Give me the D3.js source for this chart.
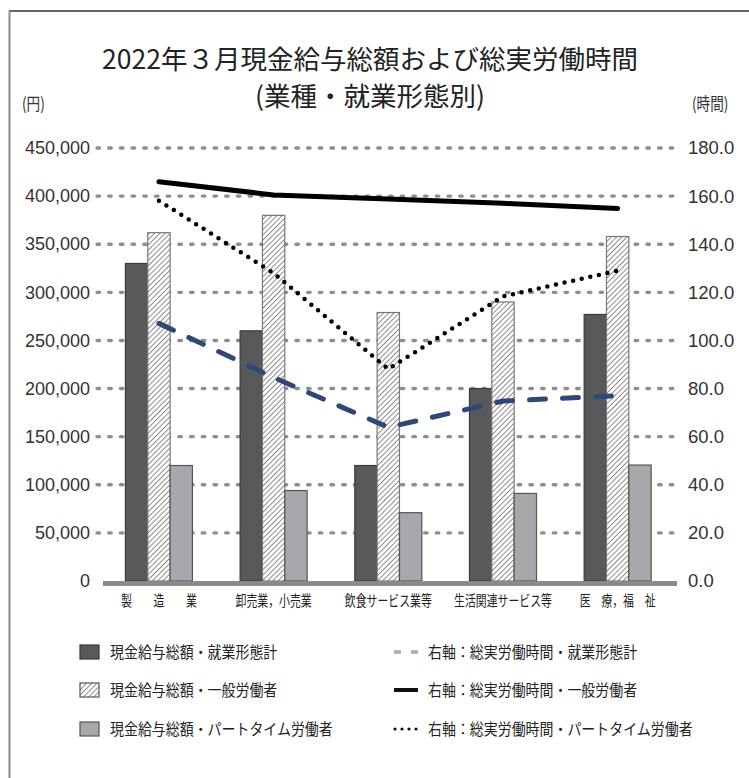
<!DOCTYPE html>
<html><head><meta charset="utf-8">
<script src="https://cdn.jsdelivr.net/npm/d3@7"></script>
<style>
html,body{margin:0;padding:0;background:#fff;}
svg{display:block;font-family:"Noto Sans CJK JP","Noto Sans",sans-serif;}
</style></head>
<body>
<svg id="c" width="749" height="778"></svg>
<script>
const categories = ["製　　造　　業","卸売業，小売業","飲食サービス業等","生活関連サービス等","医　療，福　祉"];
const wageTotal   = [330000, 260000, 120000, 200000, 277000];
const wageGeneral = [362000, 380000, 279000, 290000, 358000];
const wagePart    = [120000,  94000,  71000,  91000, 120500];
const hoursTotal   = [107.1, 84.6, 63.9, 74.8, 77.0];
const hoursGeneral = [166.0, 160.5, 158.8, 157.0, 154.9];
const hoursPart    = [158.1, 128.0, 88.1, 118.3, 129.0];
const leftTicks  = [0,50000,100000,150000,200000,250000,300000,350000,400000,450000];
const rightTicks = [0,20,40,60,80,100,120,140,160,180];
const titleLines = ["2022年３月現金給与総額および総実労働時間","(業種・就業形態別)"];
const barLegend  = ["現金給与総額・就業形態計","現金給与総額・一般労働者","現金給与総額・パートタイム労働者"];
const lineLegend = ["右軸：総実労働時間・就業形態計","右軸：総実労働時間・一般労働者","右軸：総実労働時間・パートタイム労働者"];

const svg = d3.select("#c");
const defs = svg.append("defs");
const pat = defs.append("pattern").attr("id","hatch").attr("patternUnits","userSpaceOnUse")
  .attr("width",3.7).attr("height",3.7).attr("patternTransform","rotate(45)");
pat.append("rect").attr("width",3.7).attr("height",3.7).attr("fill","#fff");
pat.append("line").attr("x1",0).attr("y1",0).attr("x2",0).attr("y2",3.7).attr("stroke","#333").attr("stroke-width",1.1);

// frame
svg.append("line").attr("x1",9).attr("x2",749).attr("y1",11).attr("y2",11).attr("stroke","#333").attr("stroke-width",1.5);
svg.append("line").attr("x1",9.5).attr("x2",9.5).attr("y1",11).attr("y2",778).attr("stroke","#888").attr("stroke-width",2);

// title
svg.append("text").attr("x",370).attr("y",69).attr("text-anchor","middle").attr("font-size",26.5).attr("fill","#222").text(titleLines[0]);
svg.append("text").attr("x",370).attr("y",106).attr("text-anchor","middle").attr("font-size",26.5).attr("fill","#222").text(titleLines[1]);
svg.append("text").attr("transform","translate(22,110) scale(0.8,1)").attr("font-size",17).attr("fill","#333").text("(円)");
svg.append("text").attr("transform","translate(692,110) scale(0.8,1)").attr("font-size",17).attr("fill","#333").text("(時間)");

const x = d3.scaleBand().domain(categories).range([101.6,675]);
const sub = d3.scaleBand().domain([0,1,2]).range([-33.5,33.5]);
const yL = d3.scaleLinear().domain([0,450000]).range([581,148]);
const yR = d3.scaleLinear().domain([0,180]).range([581,148]);
const cx = c => x(c) + x.bandwidth()/2;

// gridlines
svg.append("g").selectAll("line").data(leftTicks.filter(d=>d>0)).join("line")
  .attr("x1",97).attr("x2",673).attr("y1",d=>yL(d)).attr("y2",d=>yL(d))
  .attr("stroke","#8e8e8e").attr("stroke-width",3.4).attr("stroke-linecap","round")
  .attr("stroke-dasharray","2.5,9.2");

// axes labels
const gl = svg.append("g").attr("transform","translate(90,0)")
  .call(d3.axisLeft(yL).tickValues(leftTicks).tickSize(0).tickPadding(0).tickFormat(d3.format(",")));
gl.select(".domain").remove();
gl.selectAll("text").attr("font-family","'Liberation Sans',Arial,sans-serif").attr("font-size",18).attr("fill","#333");
const gr = svg.append("g").attr("transform","translate(688,0)")
  .call(d3.axisRight(yR).tickValues(rightTicks).tickSize(0).tickPadding(0).tickFormat(d3.format(".1f")));
gr.select(".domain").remove();
gr.selectAll("text").attr("font-family","'Liberation Sans',Arial,sans-serif").attr("font-size",18.5).attr("fill","#333");

// bars
const series = [
  {vals:wageTotal, fill:"#58595b", stroke:"#3a3a3a"},
  {vals:wageGeneral, fill:"url(#hatch)", stroke:"#777"},
  {vals:wagePart, fill:"#a6a8ab", stroke:"#555"}
];
series.forEach((s,i)=>{
  svg.append("g").selectAll("rect").data(categories).join("rect")
    .attr("x",c=>cx(c)+sub(i)).attr("width",sub.bandwidth())
    .attr("y",(c,j)=>yL(s.vals[j])).attr("height",(c,j)=>yL(0)-yL(s.vals[j]))
    .attr("fill",s.fill).attr("stroke",s.stroke).attr("stroke-width",1.2);
});

// baseline
svg.append("rect").attr("x",103).attr("width",574).attr("y",581).attr("height",5).attr("fill","#8a8a8a");

// category labels
svg.append("g").selectAll("text").data(categories).join("text")
  .attr("transform",c=>`translate(${cx(c)},606) scale(0.75,1)`)
  .attr("text-anchor","middle").attr("font-size",14.5).attr("fill","#222").text(c=>c);

// lines
const line = vals => d3.line().x((c)=>cx(c)).y((c,j)=>yR(vals[j]))(categories);
svg.append("path").attr("d",line(hoursGeneral)).attr("fill","none").attr("stroke","#000")
  .attr("stroke-width",5).attr("stroke-linecap","round");
svg.append("path").attr("d",line(hoursPart)).attr("fill","none").attr("stroke","#000")
  .attr("stroke-width",4.5).attr("stroke-linecap","round").attr("stroke-dasharray","0,8.8");
svg.append("path").attr("d",line(hoursTotal)).attr("fill","none").attr("stroke","#2f4878")
  .attr("stroke-width",5).attr("stroke-linecap","round").attr("stroke-dasharray","16,17");

// legend
const rows = [652,690,729];
const sw = [{fill:"#58595b",stroke:"#3a3a3a"},{fill:"url(#hatch)",stroke:"#555"},{fill:"#a6a8ab",stroke:"#555"}];
const lg = svg.append("g");
rows.forEach((ry,i)=>{
  lg.append("rect").attr("x",80).attr("y",ry-7).attr("width",19).attr("height",14)
    .attr("fill",sw[i].fill).attr("stroke",sw[i].stroke).attr("stroke-width",1.2);
  lg.append("text").attr("transform",`translate(110,${ry+5.5}) scale(0.9,1)`).attr("font-size",15.5).attr("fill","#222").text(barLegend[i]);
  lg.append("text").attr("transform",`translate(428,${ry+5.5}) scale(0.9,1)`).attr("font-size",15.5).attr("fill","#222").text(lineLegend[i]);
});
lg.append("line").attr("x1",394).attr("x2",418).attr("y1",rows[0]).attr("y2",rows[0])
  .attr("stroke","#aaa").attr("stroke-width",3.5).attr("stroke-dasharray","7,10");
lg.append("line").attr("x1",394).attr("x2",418).attr("y1",rows[1]).attr("y2",rows[1])
  .attr("stroke","#111").attr("stroke-width",4);
lg.append("line").attr("x1",395).attr("x2",420).attr("y1",rows[2]).attr("y2",rows[2])
  .attr("stroke","#111").attr("stroke-width",3.2).attr("stroke-linecap","round").attr("stroke-dasharray","0,7");
</script>
</body></html>
